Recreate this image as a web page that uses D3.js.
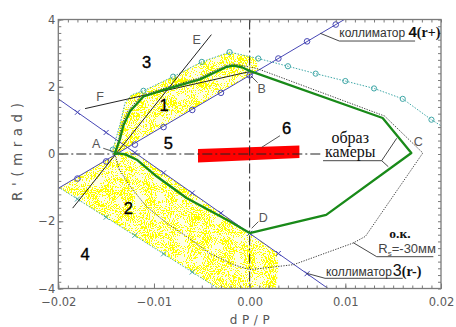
<!DOCTYPE html>
<html><head><meta charset="utf-8">
<script src="https://cdn.jsdelivr.net/npm/d3@7"></script>
<style>
html,body{margin:0;padding:0;background:#fff;}
svg{display:block;}
</style></head><body>
<svg id="chart" width="456" height="327"></svg>
<script>
// ---- axes -------------------------------------------------------------
const xDomain = [-0.02, 0.02];
const yDomain = [-4, 4];
const xMajorTicks = [-0.02, -0.01, 0, 0.01, 0.02];
const xTickLabels = ["\u22120.02", "\u22120.01", "0.00", "0.01", "0.02"];
const yMajorTicks = [-4, -2, 0, 2, 4];
const yTickLabels = ["\u22124", "\u22122", "0", "2", "4"];
const xMinorStep = 0.001;
const yMinorStep = 0.2;

// ---- collimator 4 (r+), blue with open circles --------------------------
const collimator4 = [[-0.02, -1.02], [0.0099, 4.0]];
const collimator4Marks = [[-0.018, -0.73], [-0.015, -0.22], [-0.012, 0.28], [-0.009, 0.80],
  [-0.006, 1.31], [-0.003, 1.82], [0, 2.34], [0.003, 2.84], [0.006, 3.35], [0.009, 3.85]];

// ---- collimator 3 (r-), blue with crosses ------------------------------
const collimator3 = [[-0.02, 1.64], [0.0082, -4.0]];
const collimator3Marks = [[-0.018, 1.24], [-0.015, 0.64], [-0.012, 0.04], [-0.009, -0.56],
  [-0.006, -1.16], [-0.003, -1.76], [0, -2.36], [0.003, -2.96], [0.006, -3.56]];

// ---- acceptance boundaries (teal dotted) --------------------------------
const acceptTop = [[-0.0143, 0.13], [-0.01356, 0.87], [-0.01303, 1.52], [-0.01233, 1.76],
  [-0.0111, 1.88], [-0.0080, 2.30], [-0.0050, 2.74], [-0.0021, 3.03], [0.0009, 2.84],
  [0.0040, 2.61], [0.0069, 2.39], [0.0100, 2.17], [0.0130, 1.95], [0.0160, 1.64],
  [0.0190, 1.02], [0.0200, 0.84]];
const acceptTopMarks = [[-0.0143, 0.13], [-0.0111, 1.88], [-0.0080, 2.30], [-0.0050, 2.74],
  [-0.0021, 3.03], [0.0009, 2.84], [0.0040, 2.61], [0.0069, 2.39], [0.0100, 2.17],
  [0.0130, 1.95], [0.0160, 1.64], [0.0190, 1.02]];
const acceptLow = [[-0.02, -0.98], [-0.0033, -4.0]];
const acceptLowMarks = [[-0.018, -1.34], [-0.015, -1.88], [-0.012, -2.42], [-0.009, -2.97], [-0.006, -3.51]];

// ---- populated phase-space regions (yellow) -----------------------------
const yellowUpper = [[-0.0143, 0.0], [-0.0143, 0.13], [-0.01356, 0.87], [-0.01303, 1.52],
  [-0.01233, 1.76], [-0.0111, 1.88], [-0.0080, 2.30], [-0.0050, 2.74], [-0.0021, 3.03],
  [0.0009, 2.84], [0.0009, 2.49], [-0.0141, -0.03]];
const yellowLower = [[-0.0199, -1.0], [-0.0141, -0.03], [-0.0126, 0.08], [-0.0118, 0.0],
  [0.0, -2.36], [0.0029, -2.94], [0.0030, -3.5], [0.0027, -4.0], [-0.0033, -4.0]];

// ---- camera image (green) ----------------------------------------------
const cameraImage = [[-0.0141, 0.0], [-0.01355, 0.45], [-0.0132, 0.85], [-0.0125, 1.27],
  [-0.0111, 1.71], [-0.0088, 1.92], [-0.0052, 2.22], [-0.0025, 2.58], [-0.0017, 2.63],
  [-0.0008, 2.58], [0.0, 2.47], [0.0139, 1.07], [0.0169, 0.03], [0.0080, -1.81],
  [0.0, -2.35], [-0.0021, -2.0], [-0.0066, -1.31], [-0.0097, -0.67], [-0.0118, -0.17],
  [-0.0130, -0.01], [-0.0137, 0.02]];

// ---- optical contour, Rs = -30 mm (dotted) -----------------------------
const okContour = [[-0.0141, 0.0], [-0.01368, 0.45], [-0.0134, 0.86], [-0.0127, 1.29],
  [-0.0113, 1.74], [-0.0089, 1.96], [-0.0053, 2.26], [-0.0026, 2.62], [-0.0017, 2.68],
  [-0.0006, 2.62], [0.0008, 2.54], [0.0141, 1.13], [0.0181, 0.03], [0.0121, -2.45],
  [0.0108, -2.65], [0.0046, -3.29], [0.0025, -3.36], [0.0, -3.44], [-0.0017, -3.29],
  [-0.0042, -2.95], [-0.0066, -2.45], [-0.0087, -2.05], [-0.0108, -1.56], [-0.0125, -0.96],
  [-0.0136, -0.47]];

// ---- construction lines E and F ----------------------------------------
const lineE = [[-0.0185, -1.61], [-0.0040, 3.55]];
const lineF = [[-0.0172, 1.35], [0.0, 2.45]];

// ---- object 6 (red bar) ------------------------------------------------
const redBar = [[-0.0054, 0.15], [0.0052, 0.25], [0.0052, -0.12], [-0.0054, -0.25]];

// ---- labels --------------------------------------------------------------
const regionLabels = [["1", -0.00895, 1.457], ["2", -0.01268, -1.615], ["3", -0.01076, 2.745],
  ["4", -0.01721, -2.983], ["5", -0.0085, 0.318], ["6", 0.00387, 0.764]];
const pointLabels = [["A", -0.01604, 0.318], ["B", 0.00126, 1.954], ["C", 0.01763, 0.366],
  ["D", 0.00143, -1.883], ["E", -0.00553, 3.411], ["F", -0.01564, 1.704]];
const pointLeaders = [
  [[-0.0153, 0.17], [-0.01421, 0.068]],
  [[0.00084, 2.12], [0.00014, 2.32]],
  [[0.00091, -2.013], [0.00021, -2.21]],
  [[0.00317, 0.544], [0.00126, 0.199]]
];

// ---- callouts ----------------------------------------------------------
const coll4Callout = [[0.00738, 3.59], [0.00937, 3.36], [0.01729, 3.36]];
const coll3Callout = [[0.00596, -3.548], [0.00788, -3.697], [0.0160, -3.697]];
const cameraCallout = [[0.01537, 0.467], [0.0138, -0.199], [0.00767, -0.199]];
const cameraCallout2 = [[0.0138, -0.199], [0.01449, -0.378]];
const okCallout = [[0.01083, -2.638], [0.01328, -3.054], [0.0192, -3.054]];

// ---- layout --------------------------------------------------------------
const svg = d3.select("#chart");
const x = d3.scaleLinear(xDomain, [58.3, 441]);
const y = d3.scaleLinear(yDomain, [288.5, 19.5]);
const line = d3.line().x(d => x(d[0])).y(d => y(d[1]));
const closed = d3.line().x(d => x(d[0])).y(d => y(d[1])).curve(d3.curveLinearClosed);

const defs = svg.append("defs");
defs.append("clipPath").attr("id", "plot")
  .append("rect").attr("x", x(xDomain[0])).attr("y", y(yDomain[1]))
  .attr("width", x(xDomain[1]) - x(xDomain[0])).attr("height", y(yDomain[0]) - y(yDomain[1]));

// grainy stipple for the populated regions: fine grain, lightly modulated by clumps
const f = defs.append("filter").attr("id", "speckle")
  .attr("filterUnits", "userSpaceOnUse").attr("x", 0).attr("y", 0)
  .attr("width", 456).attr("height", 327)
  .attr("color-interpolation-filters", "sRGB");
const opaqueR = "1 0 0 0 0  1 0 0 0 0  1 0 0 0 0  0 0 0 0 1";
f.append("feTurbulence").attr("type", "fractalNoise").attr("baseFrequency", 0.95)
  .attr("numOctaves", 1).attr("seed", 3).attr("result", "fineRaw");
f.append("feColorMatrix").attr("in", "fineRaw").attr("type", "matrix")
  .attr("values", opaqueR).attr("result", "fine");
f.append("feTurbulence").attr("type", "fractalNoise").attr("baseFrequency", 0.09)
  .attr("numOctaves", 2).attr("seed", 11).attr("result", "coarseRaw");
f.append("feColorMatrix").attr("in", "coarseRaw").attr("type", "matrix")
  .attr("values", opaqueR).attr("result", "coarse");
f.append("feComposite").attr("in", "fine").attr("in2", "coarse").attr("operator", "arithmetic")
  .attr("k1", 0).attr("k2", 1).attr("k3", 0.35).attr("k4", -0.175).attr("result", "mix");
f.append("feColorMatrix").attr("in", "mix").attr("type", "matrix")
  .attr("values", "0 0 0 0 1  0 0 0 0 1  0 0 0 0 0  3 0 0 0 -1.09").attr("result", "c");
f.append("feComponentTransfer").attr("in", "c").attr("result", "d")
  .append("feFuncA").attr("type", "discrete").attr("tableValues", "0 1");
f.append("feComposite").attr("in", "d").attr("in2", "SourceGraphic").attr("operator", "in");

const plot = svg.append("g").attr("clip-path", "url(#plot)");

// yellow regions: faint tint plus stipple
[yellowUpper, yellowLower].forEach(p =>
  plot.append("path").attr("d", closed(p)).attr("fill", "#ffff00").attr("fill-opacity", 0.1));
const yg = plot.append("g").attr("filter", "url(#speckle)");
[yellowUpper, yellowLower].forEach(p =>
  yg.append("path").attr("d", closed(p)).attr("fill", "#ffff00"));

// red object
plot.append("path").attr("d", closed(redBar)).attr("fill", "#ff0000");

// dash-dot reference axes
plot.append("path").attr("d", line([[xDomain[0], 0], [0.0077, 0]]))
  .attr("stroke", "#222").attr("stroke-width", 1).attr("fill", "none")
  .attr("stroke-dasharray", "10,3,2,3");
plot.append("path").attr("d", line([[0, yDomain[1]], [0, yDomain[0]]]))
  .attr("stroke", "#222").attr("stroke-width", 1).attr("fill", "none")
  .attr("stroke-dasharray", "10,3,2,3");

// acceptance boundaries
const teal = "#3fa7a7";
plot.append("path").attr("d", line(acceptTop)).attr("fill", "none")
  .attr("stroke", teal).attr("stroke-width", 1).attr("stroke-dasharray", "1.5,1.5");
plot.append("path").attr("d", line(acceptLow)).attr("fill", "none")
  .attr("stroke", teal).attr("stroke-width", 1).attr("stroke-dasharray", "1.5,1.5");
plot.selectAll(".tc").data(acceptTopMarks).join("circle")
  .attr("cx", d => x(d[0])).attr("cy", d => y(d[1])).attr("r", 2.6)
  .attr("fill", "none").attr("stroke", teal).attr("stroke-width", 1);
const cross = d3.symbol(d3.symbolX, 18);
plot.selectAll(".tx").data(acceptLowMarks).join("path")
  .attr("d", cross).attr("transform", d => `translate(${x(d[0])},${y(d[1])})`)
  .attr("fill", "none").attr("stroke", teal).attr("stroke-width", 1);

// collimators
const blue = "#4747b5";
plot.append("path").attr("d", line(collimator4)).attr("stroke", blue).attr("stroke-width", 1).attr("fill", "none");
plot.append("path").attr("d", line(collimator3)).attr("stroke", blue).attr("stroke-width", 1).attr("fill", "none");
plot.selectAll(".bc").data(collimator4Marks).join("circle")
  .attr("cx", d => x(d[0])).attr("cy", d => y(d[1])).attr("r", 2.8)
  .attr("fill", "none").attr("stroke", blue).attr("stroke-width", 1);
plot.selectAll(".bx").data(collimator3Marks).join("path")
  .attr("d", cross).attr("transform", d => `translate(${x(d[0])},${y(d[1])})`)
  .attr("fill", "none").attr("stroke", blue).attr("stroke-width", 1);

// construction lines
[lineE, lineF].forEach(l => plot.append("path").attr("d", line(l))
  .attr("stroke", "#222").attr("stroke-width", 1).attr("fill", "none"));

// optical contour
plot.append("path").attr("d", closed(okContour)).attr("fill", "none")
  .attr("stroke", "#444").attr("stroke-width", 1).attr("stroke-dasharray", "1.3,1.3");

// camera image
plot.append("path").attr("d", closed(cameraImage)).attr("fill", "none")
  .attr("stroke", "#198a19").attr("stroke-width", 2.3).attr("stroke-linejoin", "round");

// ---- frame and axes ------------------------------------------------------
const axisColor = "#7a7a7a";
const xMinor = d3.range(xDomain[0], xDomain[1] + 1e-9, xMinorStep);
const yMinor = d3.range(yDomain[0], yDomain[1] + 1e-9, yMinorStep);
function styleAxis(g) {
  g.select(".domain").remove();
  g.selectAll("line").attr("stroke", axisColor);
  g.selectAll("text").attr("fill", "#5a5a5a").attr("font-family", "DejaVu Sans")
    .attr("font-size", 11.5);
}
const axes = svg.append("g");
axes.append("g").attr("transform", `translate(0,${y(yDomain[0])})`)
  .call(d3.axisBottom(x).tickValues(xMinor).tickSize(-3).tickFormat("")).call(styleAxis);
axes.append("g").attr("transform", `translate(0,${y(yDomain[0])})`)
  .call(d3.axisBottom(x).tickValues(xMajorTicks).tickSize(-5).tickPadding(9)
    .tickFormat((d, i) => xTickLabels[i])).call(styleAxis);
axes.append("g").attr("transform", `translate(0,${y(yDomain[1])})`)
  .call(d3.axisTop(x).tickValues(xMinor).tickSize(-3).tickFormat("")).call(styleAxis);
axes.append("g").attr("transform", `translate(${x(xDomain[0])},0)`)
  .call(d3.axisLeft(y).tickValues(yMinor).tickSize(-3).tickFormat("")).call(styleAxis);
axes.append("g").attr("transform", `translate(${x(xDomain[0])},0)`)
  .call(d3.axisLeft(y).tickValues(yMajorTicks).tickSize(-5).tickPadding(3)
    .tickFormat((d, i) => yTickLabels[i])).call(styleAxis);
axes.append("g").attr("transform", `translate(${x(xDomain[1])},0)`)
  .call(d3.axisRight(y).tickValues(yMinor).tickSize(-3).tickFormat("")).call(styleAxis);
axes.append("rect").attr("x", x(xDomain[0])).attr("y", y(yDomain[1]))
  .attr("width", x(xDomain[1]) - x(xDomain[0])).attr("height", y(yDomain[0]) - y(yDomain[1]))
  .attr("fill", "none").attr("stroke", axisColor).attr("stroke-width", 1.3);

// axis titles
svg.append("text").attr("transform", `translate(22,${y(0) - 2}) rotate(-90)`)
  .attr("text-anchor", "middle").attr("font-family", "DejaVu Sans").attr("font-size", 13.5)
  .attr("fill", "#555").attr("textLength", 98).attr("lengthAdjust", "spacing")
  .text("R'(mrad)");
svg.append("text").attr("x", x(0)).attr("y", 324)
  .attr("text-anchor", "middle").attr("font-family", "DejaVu Sans").attr("font-size", 12)
  .attr("fill", "#555").attr("textLength", 40).attr("lengthAdjust", "spacing")
  .text("dP/P");

// ---- annotations ---------------------------------------------------------
const ann = svg.append("g");
ann.selectAll(".rl").data(regionLabels).join("text")
  .attr("x", d => x(d[1])).attr("y", d => y(d[2])).attr("dy", "0.36em")
  .attr("text-anchor", "middle").attr("font-family", "Liberation Sans")
  .attr("font-size", 16.5).attr("fill", "#000").attr("stroke", "#000").attr("stroke-width", 0.35)
  .text(d => d[0]);
ann.selectAll(".pl").data(pointLabels).join("text")
  .attr("x", d => x(d[1])).attr("y", d => y(d[2])).attr("dy", "0.36em")
  .attr("text-anchor", "middle").attr("font-family", "Liberation Sans")
  .attr("font-size", 12.5).attr("fill", "#555")
  .text(d => d[0]);
pointLeaders.forEach(l => ann.append("path").attr("d", line(l))
  .attr("stroke", "#444").attr("stroke-width", 0.9).attr("fill", "none"));
[coll4Callout, coll3Callout, cameraCallout, cameraCallout2, okCallout].forEach(l =>
  ann.append("path").attr("d", line(l)).attr("stroke", "#333").attr("stroke-width", 0.9).attr("fill", "none"));

// collimator 4 caption
const t4 = ann.append("text").attr("x", x(0.00937)).attr("y", y(3.488)).attr("fill", "#333");
t4.append("tspan").attr("font-family", "Liberation Sans").attr("font-size", 12).text("коллиматор ");
t4.append("tspan").attr("font-family", "Liberation Sans").attr("font-weight", "bold").attr("font-size", 15).attr("fill", "#111").text("4");
t4.append("tspan").attr("font-family", "Liberation Serif").attr("font-weight", "bold").attr("font-size", 14).attr("fill", "#111").text("(r+)");

// collimator 3 caption
const t3 = ann.append("text").attr("x", x(0.00798)).attr("y", y(-3.619)).attr("fill", "#333");
t3.append("tspan").attr("font-family", "Liberation Sans").attr("font-size", 12).text("коллиматор");
t3.append("tspan").attr("font-family", "Liberation Sans").attr("font-size", 16).attr("fill", "#111").attr("dx", 1).text("3");
t3.append("tspan").attr("font-family", "Liberation Serif").attr("font-weight", "bold").attr("font-size", 14).attr("fill", "#111").text("(r-)");

// camera image caption (two lines)
const tc = ann.append("text").attr("text-anchor", "middle")
  .attr("font-family", "Liberation Serif").attr("font-size", 16).attr("fill", "#111");
tc.append("tspan").attr("x", x(0.01051)).attr("y", y(0.34)).text("образ");
tc.append("tspan").attr("x", x(0.01051)).attr("y", y(-0.09)).text("камеры");

// optical contour caption
const tk = ann.append("text").attr("fill", "#111");
tk.append("tspan").attr("x", x(0.0146)).attr("y", y(-2.507))
  .attr("font-family", "Liberation Serif").attr("font-weight", "bold").attr("font-size", 13.5)
  .text("о.к.");
tk.append("tspan").attr("x", x(0.01345)).attr("y", y(-2.935))
  .attr("font-family", "Liberation Sans").attr("font-size", 13).attr("fill", "#444").text("R");
tk.append("tspan").attr("font-family", "Liberation Sans").attr("font-size", 8).attr("fill", "#444")
  .attr("dy", 3).text("s");
tk.append("tspan").attr("font-family", "Liberation Sans").attr("font-size", 13).attr("fill", "#444")
  .attr("dy", -3).text("=-30мм");
</script>
</body></html>
